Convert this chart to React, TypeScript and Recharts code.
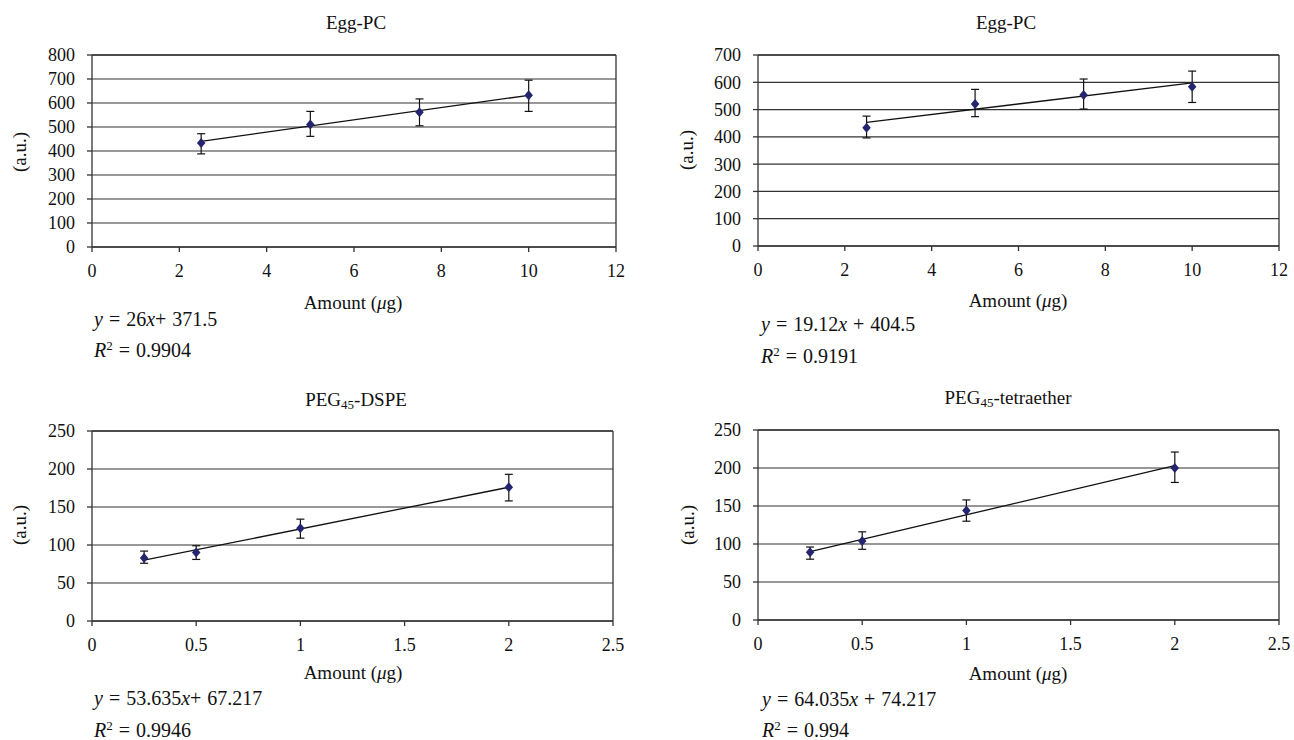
import React from "react";
import {
  ComposedChart,
  Scatter,
  Line,
  XAxis,
  YAxis,
  CartesianGrid,
  ErrorBar,
  ReferenceLine,
} from "recharts";

const FONT = '"Liberation Serif", serif';
const INK = "#111";
const MARK = "#25256f";
const FS = 19;

// top-left: Egg-PC
const A_X = [2.5, 5, 7.5, 10];
const A_Y = [433, 510, 561, 632];
const A_LO = [388, 461, 505, 565];
const A_HI = [472, 565, 617, 695];
const A_FIT = [440, 632];

// top-right: Egg-PC
const B_X = [2.5, 5, 7.5, 10];
const B_Y = [433, 520, 553, 584];
const B_LO = [396, 474, 502, 526];
const B_HI = [476, 574, 612, 641];
const B_FIT = [453, 598];

// bottom-left: PEG45-DSPE
const C_X = [0.25, 0.5, 1, 2];
const C_Y = [83, 90, 122, 176];
const C_LO = [76, 81, 109, 158];
const C_HI = [92, 99, 134, 193];
const C_FIT = [80, 176];

// bottom-right: PEG45-tetraether
const D_X = [0.25, 0.5, 1, 2];
const D_Y = [89, 104, 144, 200];
const D_LO = [80, 93, 130, 181];
const D_HI = [96, 116, 158, 221];
const D_FIT = [90, 203];

const X_TICKS_12 = [0, 2, 4, 6, 8, 10, 12];
const X_TICKS_25 = [0, 0.5, 1, 1.5, 2, 2.5];
const Y_TICKS_800 = [0, 100, 200, 300, 400, 500, 600, 700, 800];
const Y_TICKS_700 = [0, 100, 200, 300, 400, 500, 600, 700];
const Y_TICKS_250 = [0, 50, 100, 150, 200, 250];

const Diamond = (p: any) => {
  const { cx, cy } = p;
  if (cx == null || cy == null) return null;
  const r = 5;
  return (
    <path
      d={`M${cx},${cy - r}L${cx + r * 0.85},${cy}L${cx},${cy + r}L${cx - r * 0.85},${cy}Z`}
      fill={MARK}
    />
  );
};

interface PanelProps {
  left: number;
  top: number;
  width: number;
  height: number;
  yWidth: number;
  margin: { top: number; right: number; bottom: number };
  xTicks: number[];
  yTicks: number[];
  xs: number[];
  ys: number[];
  lo: number[];
  hi: number[];
  fit: number[];
}

function Panel(p: PanelProps) {
  const pts = p.xs.map((x, i) => ({
    x,
    y: p.ys[i],
    err: [p.ys[i] - p.lo[i], p.hi[i] - p.ys[i]],
  }));
  const fitLine = [
    { x: p.xs[0], y: p.fit[0] },
    { x: p.xs[p.xs.length - 1], y: p.fit[1] },
  ];
  const xMax = p.xTicks[p.xTicks.length - 1];
  const yMax = p.yTicks[p.yTicks.length - 1];
  const tick = { fontSize: 18, fill: INK, fontFamily: FONT };
  return (
    <div style={{ position: "absolute", left: p.left, top: p.top }}>
      <ComposedChart
        width={p.width}
        height={p.height}
        margin={{ top: p.margin.top, right: p.margin.right, bottom: p.margin.bottom, left: 0 }}
      >
        <CartesianGrid vertical={false} stroke="#333" strokeWidth={1.2} />
        <XAxis
          type="number"
          dataKey="x"
          domain={[0, xMax]}
          ticks={p.xTicks}
          interval={0}
          height={30}
          tick={tick}
          tickSize={5}
          tickMargin={12}
          axisLine={{ stroke: "#333", strokeWidth: 1.3 }}
          tickLine={{ stroke: "#333", strokeWidth: 1.3 }}
        />
        <YAxis
          type="number"
          dataKey="y"
          domain={[0, yMax]}
          ticks={p.yTicks}
          interval={0}
          width={p.yWidth}
          tick={tick}
          tickSize={5}
          tickMargin={12}
          axisLine={{ stroke: "#333", strokeWidth: 1.3 }}
          tickLine={{ stroke: "#333", strokeWidth: 1.3 }}
        />
        <ReferenceLine x={xMax} stroke="#333" strokeWidth={1.3} />
        <ReferenceLine y={yMax} stroke="#333" strokeWidth={1.3} />
        <Line
          data={fitLine}
          dataKey="y"
          stroke={INK}
          strokeWidth={1.3}
          dot={false}
          activeDot={false}
          isAnimationActive={false}
        />
        <Scatter data={pts} dataKey="y" shape={Diamond} isAnimationActive={false}>
          <ErrorBar dataKey="err" direction="y" width={4} stroke={INK} strokeWidth={1.2} />
        </Scatter>
      </ComposedChart>
    </div>
  );
}

const textBase: React.CSSProperties = {
  position: "absolute",
  fontFamily: FONT,
  fontSize: FS,
  color: INK,
  whiteSpace: "nowrap",
  lineHeight: "22px",
};

function Centered({ x, y, children }: { x: number; y: number; children: React.ReactNode }) {
  return (
    <div style={{ ...textBase, left: x, top: y, transform: "translate(-50%, -50%)" }}>{children}</div>
  );
}

function YLabel({ x, y }: { x: number; y: number }) {
  return (
    <div style={{ ...textBase, left: x, top: y, transform: "translate(-50%, -50%) rotate(-90deg)" }}>
      (a.u.)
    </div>
  );
}

function LeftText({ x, y, children }: { x: number; y: number; children: React.ReactNode }) {
  return (
    <div style={{ ...textBase, fontSize: 20, left: x, top: y - 11, wordSpacing: 1 }}>{children}</div>
  );
}

const amount = (
  <>
    Amount (<i>μ</i>g)
  </>
);

const subStyle: React.CSSProperties = { fontSize: 13, verticalAlign: "-3px", lineHeight: 0 };

const r2 = (v: string) => (
  <>
    <i>R</i>
    <sup style={{ fontSize: 13, verticalAlign: "7px", lineHeight: 0 }}>2</sup> = {v}
  </>
);

export default function App() {
  return (
    <div
      style={{
        position: "absolute",
        left: 0,
        top: 0,
        width: 1294,
        height: 740,
        background: "#fff",
        overflow: "hidden",
      }}
    >
      <Panel
        left={0}
        top={0}
        width={640}
        height={370}
        yWidth={92}
        margin={{ top: 55, right: 24, bottom: 93 }}
        xTicks={X_TICKS_12}
        yTicks={Y_TICKS_800}
        xs={A_X}
        ys={A_Y}
        lo={A_LO}
        hi={A_HI}
        fit={A_FIT}
      />
      <Panel
        left={650}
        top={0}
        width={644}
        height={370}
        yWidth={108}
        margin={{ top: 55, right: 15, bottom: 94 }}
        xTicks={X_TICKS_12}
        yTicks={Y_TICKS_700}
        xs={B_X}
        ys={B_Y}
        lo={B_LO}
        hi={B_HI}
        fit={B_FIT}
      />
      <Panel
        left={0}
        top={370}
        width={640}
        height={370}
        yWidth={92}
        margin={{ top: 61, right: 27, bottom: 89 }}
        xTicks={X_TICKS_25}
        yTicks={Y_TICKS_250}
        xs={C_X}
        ys={C_Y}
        lo={C_LO}
        hi={C_HI}
        fit={C_FIT}
      />
      <Panel
        left={650}
        top={370}
        width={644}
        height={370}
        yWidth={108}
        margin={{ top: 60, right: 15, bottom: 90 }}
        xTicks={X_TICKS_25}
        yTicks={Y_TICKS_250}
        xs={D_X}
        ys={D_Y}
        lo={D_LO}
        hi={D_HI}
        fit={D_FIT}
      />

      <Centered x={356} y={23}>Egg-PC</Centered>
      <Centered x={1006} y={23}>Egg-PC</Centered>
      <Centered x={356} y={400}>
        PEG<sub style={subStyle}>45</sub>-DSPE
      </Centered>
      <Centered x={1008} y={398}>
        PEG<sub style={subStyle}>45</sub>-tetraether
      </Centered>

      <YLabel x={20} y={152} />
      <YLabel x={687} y={150} />
      <YLabel x={20} y={525} />
      <YLabel x={688} y={525} />

      <Centered x={353} y={303}>{amount}</Centered>
      <Centered x={1018} y={301}>{amount}</Centered>
      <Centered x={353} y={673}>{amount}</Centered>
      <Centered x={1018} y={674}>{amount}</Centered>

      <LeftText x={94} y={319}>
        <i>y</i> = 26<i>x</i>+ 371.5
      </LeftText>
      <LeftText x={94} y={350}>{r2("0.9904")}</LeftText>
      <LeftText x={761} y={324}>
        <i>y</i> = 19.12<i>x</i> + 404.5
      </LeftText>
      <LeftText x={761} y={356}>{r2("0.9191")}</LeftText>
      <LeftText x={94} y={698}>
        <i>y</i> = 53.635<i>x</i>+ 67.217
      </LeftText>
      <LeftText x={94} y={730}>{r2("0.9946")}</LeftText>
      <LeftText x={762} y={699}>
        <i>y</i> = 64.035<i>x</i> + 74.217
      </LeftText>
      <LeftText x={762} y={730}>{r2("0.994")}</LeftText>
    </div>
  );
}
